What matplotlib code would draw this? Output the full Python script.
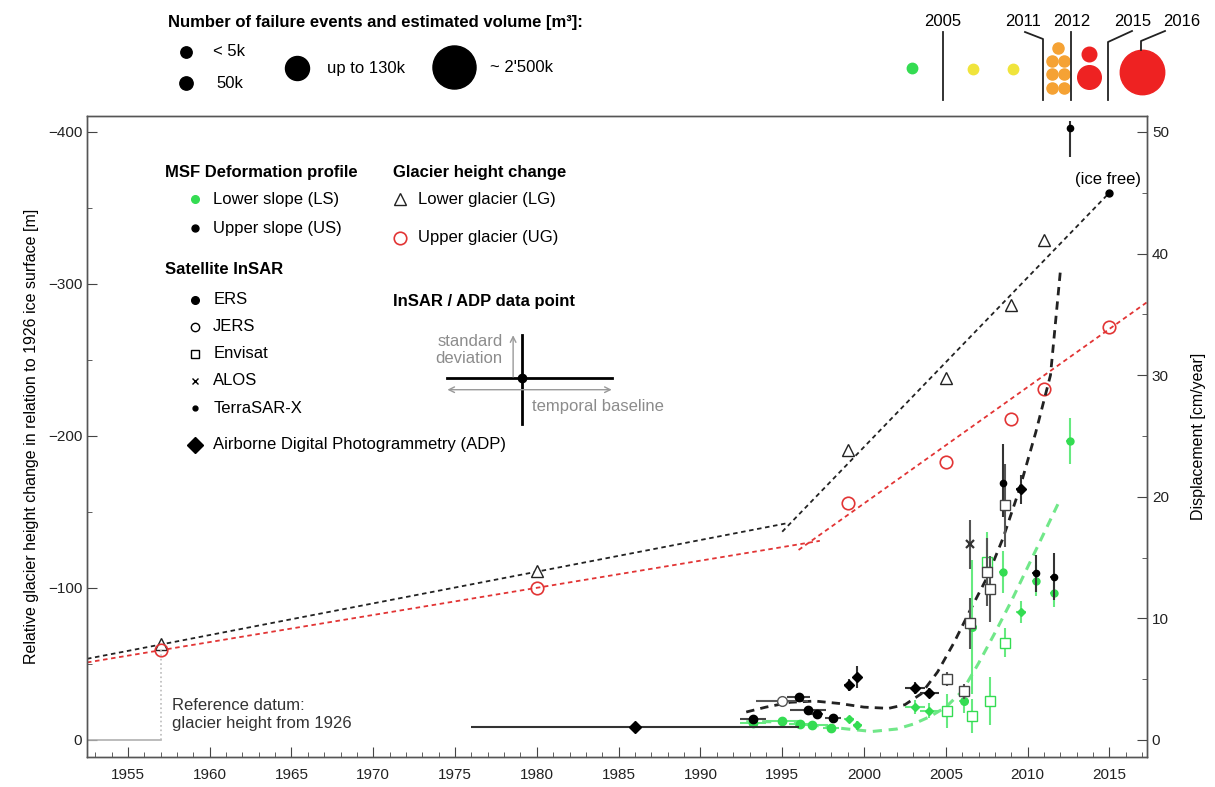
import matplotlib
matplotlib.use("Agg")
import matplotlib.pyplot as plt
from matplotlib.ticker import MultipleLocator

plt.rcParams['font.family'] = ['Liberation Sans', 'DejaVu Sans']
plt.rcParams['axes.unicode_minus'] = True

GREEN = '#34dc52'
GREEN_BAR = '#66ea80'
RED = '#e23434'
DARK = '#222222'

# ---- glacier height change [m] relative to 1926 ice surface ----
lg_years = [1957, 1980, 1999, 2005, 2009, 2011]
lg_height = [-63, -111, -191, -238, -286, -329]
ug_years = [1957, 1980, 1999, 2005, 2009, 2011, 2015]
ug_height = [-59, -100, -156, -183, -211, -231, -272]
ice_free_year = [2015]
ice_free_height = [-360]

# two linear phases per glacier part
lg_phase1_years = [1952.5, 1995.3]
lg_phase1 = [-53.4, -142.6]
lg_phase2_years = [1995.0, 2015.0]
lg_phase2 = [-137, -360]
ug_phase1_years = [1952.5, 1997.3]
ug_phase1 = [-51, -131]
ug_phase2_years = [1996.0, 2017.3]
ug_phase2 = [-125, -288]

# ---- displacement [cm/year], upper slope (US) ----
ers_us_years = [1993.2, 1996.0, 1996.6, 1997.1, 1998.1]
ers_us = [1.7, 3.5, 2.5, 2.1, 1.8]
ers_us_xerr = [0.8, 0.7, 1.1, 0.4, 0.5]
jers_us_years = [1995.0]
jers_us = [3.2]
jers_us_xerr = [1.6]
adp_us_years = [1986.0, 1999.1, 1999.6, 2003.1, 2004.0, 2009.6]
adp_us = [1.1, 4.5, 5.2, 4.3, 3.9, 20.6]
adp_us_xerr = [10.0, 0.3, 0.3, 0.6, 0.6, 0.3]
adp_us_yerr = [0.0, 0.5, 0.9, 0.5, 0.4, 1.2]
envisat_us_years = [2005.1, 2006.1, 2006.5, 2007.5, 2007.7, 2008.6]
envisat_us = [5.0, 4.0, 9.6, 13.8, 12.4, 19.3]
envisat_us_yerr = [0.6, 0.6, 2.1, 2.8, 2.7, 3.4]
alos_us_years = [2006.5]
alos_us = [16.1]
alos_us_yerr = [2.0]
tsx_us_years = [2008.5, 2010.5, 2011.6, 2012.6]
tsx_us = [21.1, 13.7, 13.4, 50.3]
tsx_us_yerr_lo = [2.8, 1.5, 1.9, 2.4]
tsx_us_yerr_hi = [3.2, 1.5, 2.0, 0.6]

# ---- displacement [cm/year], lower slope (LS) ----
ers_ls_years = [1993.2, 1996.1, 1996.8, 1998.0]
ers_ls = [1.4, 1.3, 1.2, 1.0]
ers_ls_xerr = [0.8, 0.7, 1.0, 0.5]
jers_ls_years = [1995.0]
jers_ls = [1.6]
jers_ls_xerr = [1.0]
adp_ls_years = [1999.1, 1999.6, 2003.1, 2004.0, 2009.6]
adp_ls = [1.7, 1.2, 2.7, 2.4, 10.5]
adp_ls_xerr = [0.3, 0.3, 0.6, 0.6, 0.3]
adp_ls_yerr = [0.3, 0.4, 0.6, 0.6, 0.9]
envisat_ls_years = [2005.1, 2006.6, 2007.7, 2008.6, 2007.5]
envisat_ls = [2.4, 2.0, 3.2, 8.0, 14.6]
envisat_ls_yerr = [1.4, 1.4, 2.0, 1.2, 2.5]
alos_ls_years = [2006.6, 2006.1]
alos_ls = [9.3, 3.2]
alos_ls_yerr = [5.5, 1.0]
tsx_ls_years = [2008.5, 2010.5, 2011.6, 2012.6]
tsx_ls = [13.8, 13.1, 12.1, 24.6]
tsx_ls_yerr = [1.7, 1.3, 1.2, 1.9]

# ---- deformation trend curves [cm/year] ----
us_trend_years = [1992.8, 1994.0, 1995.5, 1997.0, 1998.5, 2000.0, 2001.5, 2002.5,
                  2003.5, 2004.5, 2005.5, 2006.5, 2007.5, 2008.5, 2009.5, 2010.5,
                  2011.4, 2012.0]
us_trend = [2.3, 2.7, 3.1, 3.2, 3.0, 2.7, 2.6, 2.9, 3.8, 5.6, 8.0, 10.7, 13.3,
            16.6, 20.6, 25.3, 30.0, 38.5]
ls_trend_years = [1992.8, 1995.0, 1997.0, 1999.0, 2000.5, 2002.0, 2003.0, 2004.0,
                  2005.0, 2006.0, 2007.0, 2008.0, 2009.0, 2010.0, 2011.0, 2012.0]
ls_trend = [1.5, 1.5, 1.2, 0.9, 0.7, 0.9, 1.3, 1.9, 2.7, 4.0, 6.3, 8.8, 11.4,
            14.2, 17.0, 19.8]

# ---- failure events (top strip) ----
volume_labels = ['< 5k', '50k', 'up to 130k', "~ 2'500k"]
volume_ms = [8.2, 9.6, 17.3, 31]
event_years = ['2005', '2011', '2012', '2015', '2016']


def points(axis, years, vals, marker, ms, color, face, ecolor,
           xerr=None, yerr=None, mew=1.0, z=5):
    axis.errorbar(years, vals, xerr=xerr, yerr=yerr, fmt=marker, ms=ms,
                  mfc=face, mec=color, ecolor=ecolor, elinewidth=1.5,
                  capsize=0, mew=mew, zorder=z)


fig = plt.figure(figsize=(12.15, 7.87), dpi=100)
ax = fig.add_axes([87 / 1215, 30 / 787, 1060 / 1215, 641 / 787])
ax.set_xlim(1952.5, 2017.3)
ax.set_ylim(11.2, -410.5)
ax2 = ax.twinx()
ax2.set_ylim(-11.2 / 8, 410.5 / 8)

# glacier height change
dash = (0, (2.5, 2))
ax.plot(lg_phase1_years, lg_phase1, color=DARK, lw=1.3, ls=dash)
ax.plot(lg_phase2_years, lg_phase2, color=DARK, lw=1.3, ls=dash)
ax.plot(ug_phase1_years, ug_phase1, color=RED, lw=1.3, ls=dash)
ax.plot(ug_phase2_years, ug_phase2, color=RED, lw=1.3, ls=dash)
ax.plot(lg_years, lg_height, ls='none', marker='^', ms=9, mfc='white', mec=DARK, mew=1.0)
ax.plot(ug_years, ug_height, ls='none', marker='o', ms=9, mfc='none', mec=RED, mew=1.2)
ax.plot(ice_free_year, ice_free_height, ls='none', marker='o', ms=5, color='black')
ax.text(ice_free_year[0] - 0.1, ice_free_height[0] - 9, '(ice free)', ha='center',
        va='center', fontsize=12)

# reference datum
ax.plot([1952.5, lg_years[0]], [0, 0], color='#b0b0b0', lw=1.2)
ax.plot([ug_years[0], ug_years[0]], [0, ug_height[0]], color='#bbbbbb', lw=1.2, ls=':')
ax.text(1957.7, -17, 'Reference datum:\nglacier height from 1926', ha='left',
        va='center', fontsize=12, color='#333333', linespacing=1.25)

# trend curves
ax2.plot(us_trend_years, us_trend, color=DARK, lw=2.0, ls=(0, (3, 2.2)), zorder=3)
ax2.plot(ls_trend_years, ls_trend, color='#4ee26c', lw=2.2, ls=(0, (3, 2.2)), alpha=0.8, zorder=3)

# lower slope points
points(ax2, ers_ls_years, ers_ls, 'o', 6, GREEN, GREEN, GREEN_BAR, xerr=ers_ls_xerr, yerr=0.3)
points(ax2, jers_ls_years, jers_ls, 'o', 6, GREEN, GREEN, GREEN_BAR, xerr=jers_ls_xerr, yerr=0.3)
points(ax2, adp_ls_years, adp_ls, 'D', 4.5, GREEN, GREEN, GREEN_BAR, xerr=adp_ls_xerr, yerr=adp_ls_yerr)
points(ax2, envisat_ls_years, envisat_ls, 's', 6.5, GREEN, 'white', GREEN_BAR, xerr=0.3, yerr=envisat_ls_yerr)
points(ax2, alos_ls_years, alos_ls, 'o', 5.5, GREEN, GREEN, GREEN_BAR, xerr=0.3, yerr=alos_ls_yerr)
points(ax2, tsx_ls_years, tsx_ls, 'o', 5, GREEN, GREEN, GREEN_BAR, xerr=0.25, yerr=tsx_ls_yerr)

# upper slope points
points(ax2, ers_us_years, ers_us, 'o', 6, 'black', 'black', '#444444', xerr=ers_us_xerr, yerr=0.3, z=6)
points(ax2, jers_us_years, jers_us, 'o', 7, '#555555', 'white', '#555555', xerr=jers_us_xerr, yerr=0.3, z=6)
points(ax2, adp_us_years[:1], adp_us[:1], 'D', 6.5, 'black', 'black', '#333333',
       xerr=adp_us_xerr[:1], z=6)
points(ax2, adp_us_years[1:], adp_us[1:], 'D', 5, 'black', 'black', '#333333',
       xerr=adp_us_xerr[1:], yerr=adp_us_yerr[1:], z=6)
points(ax2, envisat_us_years, envisat_us, 's', 6.5, '#444444', 'white', '#555555', xerr=0.3, yerr=envisat_us_yerr, z=6)
points(ax2, alos_us_years, alos_us, 'x', 6, '#333333', '#333333', '#555555', yerr=alos_us_yerr, mew=1.6, z=6)
points(ax2, tsx_us_years, tsx_us, 'o', 4.5, 'black', 'black', '#333333',
       yerr=[tsx_us_yerr_lo, tsx_us_yerr_hi], xerr=0.2, z=6)

# axes styling
for a in (ax, ax2):
    for s in a.spines.values():
        s.set_color('#555555')
        s.set_linewidth(1.0)
ax.xaxis.set_major_locator(MultipleLocator(5))
ax.xaxis.set_minor_locator(MultipleLocator(1))
ax.yaxis.set_major_locator(MultipleLocator(100))
ax.yaxis.set_minor_locator(MultipleLocator(50))
ax2.yaxis.set_major_locator(MultipleLocator(10))
ax2.yaxis.set_minor_locator(MultipleLocator(5))
ax.set_xticks(range(1955, 2016, 5))
ax.tick_params(which='both', direction='in', colors='#444444', labelcolor='#222222', labelsize=11)
ax.tick_params(which='major', length=7)
ax.tick_params(which='minor', length=3.5)
ax.tick_params(axis='x', pad=8)
ax2.tick_params(which='both', direction='in', colors='#444444', labelcolor='#222222', labelsize=11)
ax2.tick_params(which='major', length=7)
ax2.tick_params(which='minor', length=3.5)
ax.set_ylabel('Relative glacier height change in relation to 1926 ice surface [m]',
              fontsize=11.5, labelpad=6)
ax2.set_ylabel('Displacement [cm/year]', fontsize=11.5, labelpad=16)

# ---- legend blocks inside the axes ----
T = ax.transAxes
fs = 12
ax.text(0.0736, 0.9126, 'MSF Deformation profile', transform=T, fontsize=fs, weight='bold', va='center')
ax.plot([0.102], [0.870], 'o', ms=5.5, color=GREEN, transform=T)
ax.text(0.119, 0.870, 'Lower slope (LS)', transform=T, fontsize=fs, va='center')
ax.plot([0.102], [0.825], 'o', ms=5, color='black', transform=T)
ax.text(0.119, 0.825, 'Upper slope (US)', transform=T, fontsize=fs, va='center')

ax.text(0.289, 0.9126, 'Glacier height change', transform=T, fontsize=fs, weight='bold', va='center')
ax.plot([0.295], [0.870], '^', ms=9, mfc='white', mec=DARK, transform=T)
ax.text(0.312, 0.870, 'Lower glacier (LG)', transform=T, fontsize=fs, va='center')
ax.plot([0.295], [0.810], 'o', ms=9, mfc='none', mec=RED, mew=1.2, transform=T)
ax.text(0.312, 0.810, 'Upper glacier (UG)', transform=T, fontsize=fs, va='center')

ax.text(0.0736, 0.760, 'Satellite InSAR', transform=T, fontsize=fs, weight='bold', va='center')
sensor_names = ['ERS', 'JERS', 'Envisat', 'ALOS', 'TerraSAR-X', 'Airborne Digital Photogrammetry (ADP)']
sensor_marks = [('o', 5.5, 'black'), ('o', 6, 'white'), ('s', 5.5, 'white'),
                ('x', 5, 'black'), ('o', 3.5, 'black'), ('D', 8, 'black')]
sensor_fy = [0.713, 0.671, 0.629, 0.587, 0.544, 0.487]
for name, (mk, ms, fc), fy in zip(sensor_names, sensor_marks, sensor_fy):
    ax.plot([0.102], [fy], mk, ms=ms, mfc=fc, mec='black', mew=1.0, transform=T)
    ax.text(0.119, fy, name, transform=T, fontsize=fs, va='center')

ax.text(0.289, 0.710, 'InSAR / ADP data point', transform=T, fontsize=fs, weight='bold', va='center')
ax.plot([0.410, 0.410], [0.520, 0.658], color='black', lw=2, transform=T)
ax.plot([0.340, 0.495], [0.591, 0.591], color='black', lw=2, transform=T)
ax.plot([0.410], [0.591], 'o', ms=6, color='black', transform=T)
ax.annotate('', xy=(0.402, 0.658), xytext=(0.402, 0.593), xycoords=T,
            arrowprops=dict(arrowstyle='->', color='#999999', lw=1, shrinkA=0, shrinkB=0))
ax.annotate('', xy=(0.340, 0.573), xytext=(0.495, 0.573), xycoords=T,
            arrowprops=dict(arrowstyle='<->', color='#999999', lw=1, shrinkA=0, shrinkB=0))
ax.text(0.392, 0.635, 'standard\ndeviation', transform=T, fontsize=fs, color='#8c8c8c',
        ha='right', va='center', linespacing=1.1)
ax.text(0.420, 0.547, 'temporal baseline', transform=T, fontsize=fs, color='#8c8c8c', va='center')

# ---- top strip: failure events and volumes ----
top = fig.add_axes([0, 1 - 110 / 787, 1, 110 / 787])
top.set_xlim(0, 1215)
top.set_ylim(110, 0)
top.axis('off')
top.text(168, 23, 'Number of failure events and estimated volume [m\u00b3]:', fontsize=12,
         weight='bold', va='center')
vol_x = [186, 186, 297, 454]
vol_y = [52, 83, 68, 67]
lab_x = [213, 216, 327, 490]
for x, y, ms, lab, lx in zip(vol_x, vol_y, volume_ms, volume_labels, lab_x):
    top.plot([x], [y], 'o', ms=ms, color='black')
    top.text(lx, y, lab, fontsize=12, va='center')

top.plot([912], [68], 'o', ms=7.5, color=GREEN)
top.plot([973, 1013], [69, 69], 'o', ms=7.5, color='#f0e43c', ls='none')
top.plot([1058, 1052, 1064, 1052, 1064, 1052, 1064], [48, 61, 61, 74, 74, 88, 88], 'o',
         ms=8, color='#f5a234', ls='none')
top.plot([1089], [54], 'o', ms=10.5, color='#ee2222')
top.plot([1089], [77], 'o', ms=17, color='#ee2222')
top.plot([1142], [72], 'o', ms=32, color='#ee2222')

lead_x = [[943, 943], [1025, 1043, 1043], [1071, 1071], [1132, 1108, 1108], [1165, 1141, 1141]]
lead_y = [[32, 100], [32, 39, 100], [32, 100], [31, 42, 100], [31, 41, 50]]
lab_pos = [943, 1023, 1072, 1133, 1182]
for yr, lx, ly, px in zip(event_years, lead_x, lead_y, lab_pos):
    top.plot(lx, ly, color='#222222', lw=1.3)
    top.text(px, 21, yr, fontsize=12, ha='center', va='center')

fig.savefig('out.png', dpi=100)
